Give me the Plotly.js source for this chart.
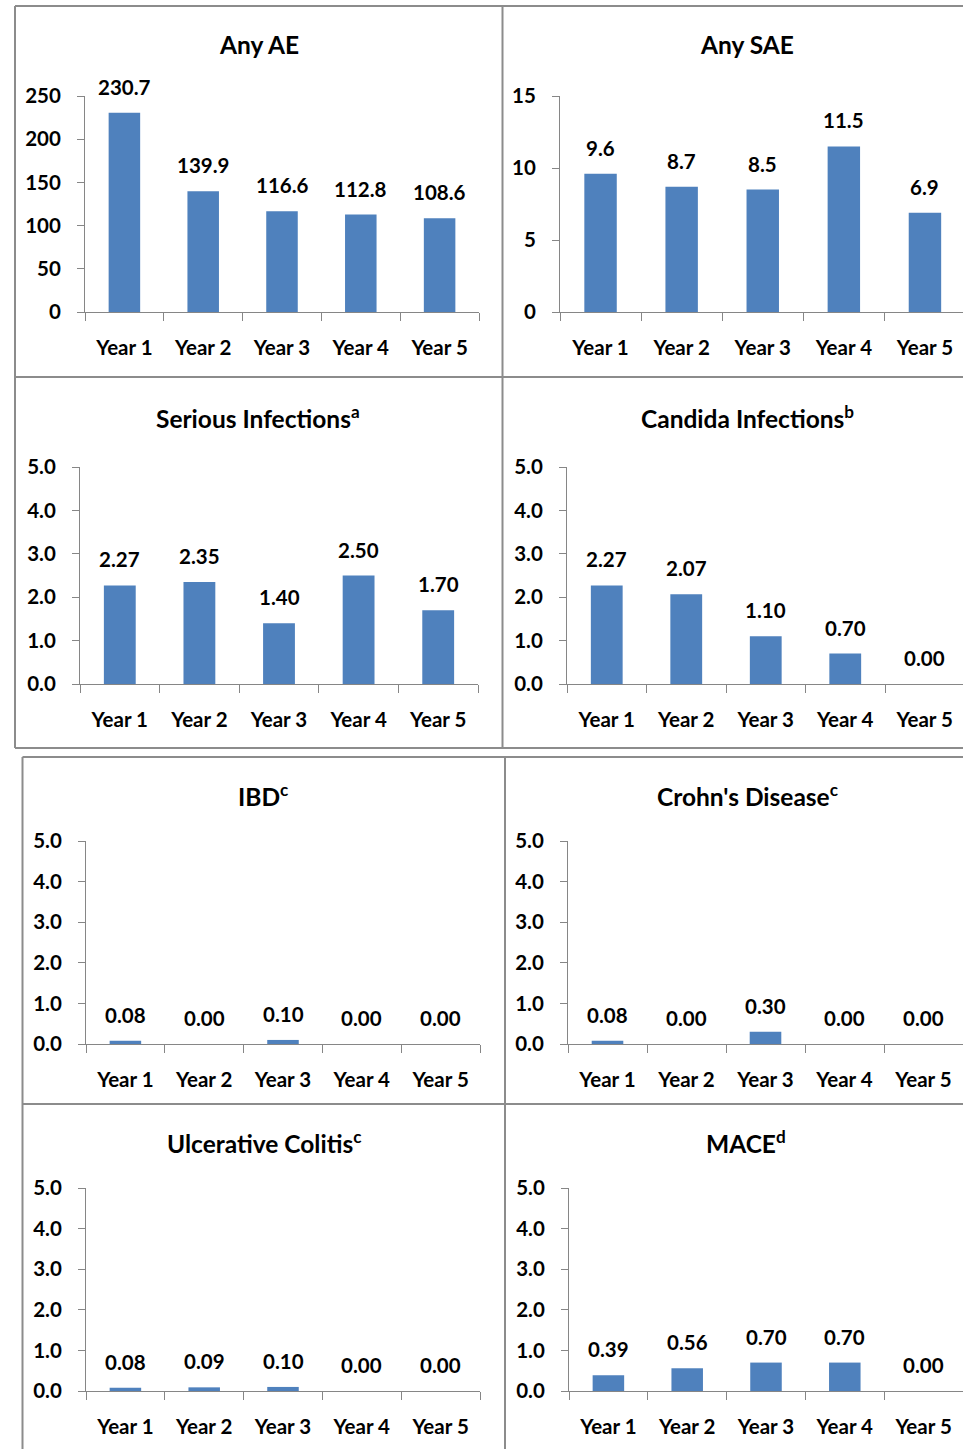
<!DOCTYPE html>
<html>
<head>
<meta charset="utf-8">
<script src="https://cdn.plot.ly/plotly-3.0.1.min.js"></script>
<style>html,body{margin:0;padding:0;background:#fff;}#chart{width:963px;height:1449px;}</style>
</head>
<body>
<div id="chart"></div>
<script>
// ---- Data ----
var years = ["Year 1", "Year 2", "Year 3", "Year 4", "Year 5"];
var panelTitles = ["Any AE", "Any SAE", "Serious Infections<sup>a</sup>", "Candida Infections<sup>b</sup>",
                   "IBD<sup>c</sup>", "Crohn's Disease<sup>c</sup>", "Ulcerative Colitis<sup>c</sup>", "MACE<sup>d</sup>"];
var anyAE = [230.7, 139.9, 116.6, 112.8, 108.6];
var anySAE = [9.6, 8.7, 8.5, 11.5, 6.9];
var seriousInfections = [2.27, 2.35, 1.40, 2.50, 1.70];
var candidaInfections = [2.27, 2.07, 1.10, 0.70, 0.00];
var ibd = [0.08, 0.00, 0.10, 0.00, 0.00];
var crohns = [0.08, 0.00, 0.30, 0.00, 0.00];
var ulcerativeColitis = [0.08, 0.09, 0.10, 0.00, 0.00];
var mace = [0.39, 0.56, 0.70, 0.70, 0.00];
var labelDecimals = [1, 1, 2, 2, 2, 2, 2, 2];
var yMax = [250, 15, 5, 5, 5, 5, 5, 5];
var yStep = [50, 5, 1, 1, 1, 1, 1, 1];
var yTickFormat = ["d", "d", ".1f", ".1f", ".1f", ".1f", ".1f", ".1f"];

var series = [anyAE, anySAE, seriousInfections, candidaInfections, ibd, crohns, ulcerativeColitis, mace];

// ---- Layout geometry (pixels) ----
var W = 963, H = 1449;
function fx(p) { return p / W; }
function fy(p) { return 1 - p / H; }
// [x left, x right, y bottom(0), y top(max), title x, title y]
var geo = [
  [85, 479, 312, 96, 259, 45],
  [560, 963, 312, 96, 747, 45],
  [80, 478, 684, 467, 258, 417],
  [567, 963, 684, 467, 747, 417],
  [86, 480, 1044, 841, 263, 795],
  [568, 963, 1044, 841, 747, 795],
  [86, 480, 1391, 1188, 264, 1142],
  [569, 963, 1391, 1188, 746, 1142]
];
var spacing = [78.8, 81.1, 79.6, 79.5, 78.8, 79, 78.8, 78.8];

var FONT = "Lato, 'Open Sans', sans-serif";
var FS = 20.5, TFS = 24.5;
var AXC = "#868686";
var BAR = "#4f81bd";

var data = [];
var layout = {
  width: W, height: H,
  margin: {l: 0, r: 0, t: 0, b: 0},
  paper_bgcolor: "#ffffff", plot_bgcolor: "rgba(0,0,0,0)",
  showlegend: false,
  font: {family: FONT, color: "#000000", size: FS, weight: 700},
  annotations: [], shapes: []
};

for (var i = 0; i < 8; i++) {
  var n = i + 1;
  var xa = "x" + (n === 1 ? "" : n), ya = "y" + (n === 1 ? "" : n);
  var xk = "xaxis" + (n === 1 ? "" : n), yk = "yaxis" + (n === 1 ? "" : n);
  var g = geo[i];
  data.push({
    type: "bar", x: years, y: series[i], xaxis: xa, yaxis: ya,
    width: 0.4, marker: {color: BAR, line: {width: 0}},
    hoverinfo: "skip"
  });
  var rmax = (g[1] - g[0]) / spacing[i] - 0.5;
  layout[xk] = {
    domain: [fx(g[0]), fx(g[1])], range: [-0.5, rmax], anchor: ya,
    type: "category", tickson: "boundaries", ticks: "outside", ticklen: 8, tickwidth: 1,
    tickcolor: AXC, showline: true, linecolor: AXC, linewidth: 1,
    showgrid: false, zeroline: false, fixedrange: true,
    tickfont: {family: FONT, size: FS, color: "#000", weight: 700}, ticklabelstandoff: 17
  };
  layout[yk] = {
    domain: [fy(g[2]), fy(g[3])], range: [0, yMax[i]], anchor: xa,
    dtick: yStep[i], tick0: 0, tickformat: yTickFormat[i],
    ticks: "outside", ticklen: 7, tickwidth: 1, tickcolor: AXC,
    showline: true, linecolor: AXC, linewidth: 1,
    showgrid: false, zeroline: false, fixedrange: true,
    tickfont: {family: FONT, size: FS, color: "#000", weight: 700}, ticklabelstandoff: 12
  };
  // data labels
  for (var k = 0; k < years.length; k++) {
    layout.annotations.push({
      xref: xa, yref: ya, x: years[k], y: series[i][k],
      text: series[i][k].toFixed(labelDecimals[i]),
      showarrow: false, yanchor: "middle", xanchor: "center", yshift: 26,
      font: {family: FONT, size: FS, color: "#000", weight: 700}
    });
  }
  // panel title
  layout.annotations.push({
    xref: "paper", yref: "paper", x: fx(g[4]), y: fy(g[5]),
    text: panelTitles[i], showarrow: false, xanchor: "center", yanchor: "middle",
    font: {family: FONT, size: TFS, color: "#000", weight: 700}
  });
}

// panel borders
var BC = "#8c8c8c";
function hline(y, x0, x1) { return {type: "line", xref: "paper", yref: "paper", x0: fx(x0), x1: fx(x1), y0: fy(y), y1: fy(y), line: {color: BC, width: 2}}; }
function vline(x, y0, y1) { return {type: "line", xref: "paper", yref: "paper", x0: fx(x), x1: fx(x), y0: fy(y0), y1: fy(y1), line: {color: BC, width: 2}}; }
layout.shapes.push(hline(6, 15, 963), hline(377, 15, 963), hline(748, 15, 963),
                   vline(15, 6, 748), vline(502.5, 6, 748),
                   hline(757, 22.5, 963), hline(1104, 22.5, 963),
                   vline(22.5, 757, 1449), vline(505, 757, 1449));

Plotly.newPlot("chart", data, layout, {staticPlot: true, displayModeBar: false});
</script>
</body>
</html>
